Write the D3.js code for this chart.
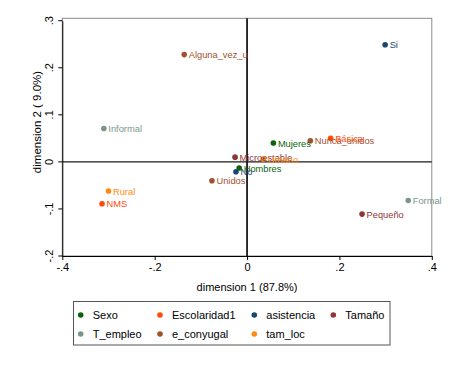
<!DOCTYPE html>
<html><head><meta charset="utf-8">
<script src="https://cdn.jsdelivr.net/npm/d3@7"></script>
<style>body{margin:0;background:#fff}svg{display:block}text{font-family:"Liberation Sans",Arial,sans-serif}</style>
</head><body><svg id="c" width="463" height="368"></svg>
<script>
const groups = ["Sexo","Escolaridad1","asistencia","Tamaño","T_empleo","e_conyugal","tam_loc"];
const groupColors = ["#0b640b","#ff4a0a","#1a476f","#90353b","#7a968c","#a0522d","#ff8a12"];
const labels = ["Si","Alguna_vez_u","Informal","Mujeres","Nunca_unidos","Básica","Microestable","Urbano","Hombres","No","Unidos","Rural","NMS","Formal","Pequeño"];
const dim1 =   [0.299,-0.136,-0.310,0.057,0.137,0.181,-0.026,0.035,-0.017,-0.024,-0.076,-0.300,-0.314,0.349,0.249];
const dim2 =   [0.249,0.228,0.071,0.040,0.045,0.050,0.010,0.006,-0.013,-0.021,-0.040,-0.062,-0.089,-0.082,-0.111];
const pointGroup = ["asistencia","e_conyugal","T_empleo","Sexo","e_conyugal","Escolaridad1","Tamaño","tam_loc","Sexo","asistencia","e_conyugal","tam_loc","Escolaridad1","T_empleo","Tamaño"];
const xTicks = [-0.4,-0.2,0,0.2,0.4];
const yTicks = [-0.2,-0.1,0,0.1,0.2,0.3];
const xTitle = "dimension 1 (87.8%)";
const yTitle = "dimension 2 ( 9.0%)";

const svg = d3.select("#c");
const L=62.3,R=431.8,T=18.3,B=256;
const x = d3.scaleLinear().domain([-0.4,0.4]).range([L,R]);
const y = d3.scaleLinear().domain([-0.2,0.3]).range([256,20.7]);
const color = d3.scaleOrdinal().domain(groups).range(groupColors);
const fmt = v => v===0 ? "0" : (v<0?"-":"") + String(Math.abs(v)).replace(/^0/,"");

// frame
svg.append("rect").attr("x",L).attr("y",T).attr("width",R-L).attr("height",B-T)
  .attr("fill","none").attr("stroke","#8a8a8a").attr("stroke-width",1);

// axes
const xa = svg.append("g").attr("transform",`translate(0,${B})`)
  .call(d3.axisBottom(x).tickValues(xTicks).tickFormat(fmt).tickSize(4).tickSizeOuter(0));
const ya = svg.append("g").attr("transform",`translate(${L},0)`)
  .call(d3.axisLeft(y).tickValues(yTicks).tickFormat(fmt).tickSize(4).tickSizeOuter(0));
[xa,ya].forEach(g=>{g.select(".domain").attr("stroke","#000");g.selectAll("line").attr("stroke","#000");
  g.selectAll("text").attr("font-size",11).attr("fill","#000").attr("font-family","Liberation Sans, Arial, sans-serif");});
xa.selectAll("text").attr("dy","0.9em").attr("y",5);
ya.selectAll("text").attr("transform","rotate(-90)").attr("x",0).attr("y",-9).attr("dy",0)
  .attr("text-anchor","middle").attr("transform",d=>`translate(0,${y(d)}) rotate(-90)`);
ya.selectAll(".tick").attr("transform","translate(0,0)");
ya.selectAll(".tick line").attr("y1",d=>y(d)).attr("y2",d=>y(d));

// zero lines
svg.append("line").attr("x1",x(0)).attr("x2",x(0)).attr("y1",T).attr("y2",B).attr("stroke","#1a1a1a").attr("stroke-width",1.8);
svg.append("line").attr("x1",L).attr("x2",R).attr("y1",y(0)).attr("y2",y(0)).attr("stroke","#1a1a1a").attr("stroke-width",1.3);

// titles
svg.append("text").attr("x",(L+R)/2).attr("y",291).attr("text-anchor","middle").attr("font-size",11).text(xTitle);
svg.append("text").attr("transform",`translate(41,122) rotate(-90)`).attr("text-anchor","middle").attr("font-size",11.5).text(yTitle);

// points
const pts = labels.map((l,i)=>({l,x:dim1[i],y:dim2[i],g:pointGroup[i]}));
const pg = svg.append("g");
pg.selectAll("circle").data(pts).join("circle").attr("cx",d=>x(d.x)).attr("cy",d=>y(d.y)).attr("r",2.8)
  .attr("fill",d=>color(d.g));
pg.selectAll("text").data(pts).join("text").attr("x",d=>x(d.x)+4.5).attr("y",d=>y(d.y)+3.6)
  .attr("font-size",9.3).attr("font-family","'Liberation Sans Narrow', 'Liberation Sans', Arial, sans-serif")
  .attr("fill",d=>color(d.g)).text(d=>d.l);

// legend
const lg = svg.append("g");
lg.append("rect").attr("x",73.5).attr("y",301.5).attr("width",316.5).attr("height",43.5)
  .attr("fill","#fff").attr("stroke","#555").attr("stroke-width",1);
const legOrder = ["Sexo","Escolaridad1","asistencia","Tamaño","T_empleo","e_conyugal","tam_loc"];
const colX = [80.7,160,254.3,333.3], rowY=[315,334];
legOrder.forEach((g,i)=>{
  const cx = colX[i%4], cy = rowY[Math.floor(i/4)];
  lg.append("circle").attr("cx",cx).attr("cy",cy).attr("r",2.8).attr("fill",color(g));
  lg.append("text").attr("x",cx+12).attr("y",cy+4).attr("font-size",11).attr("fill","#000").text(g);
});
</script></body></html>
